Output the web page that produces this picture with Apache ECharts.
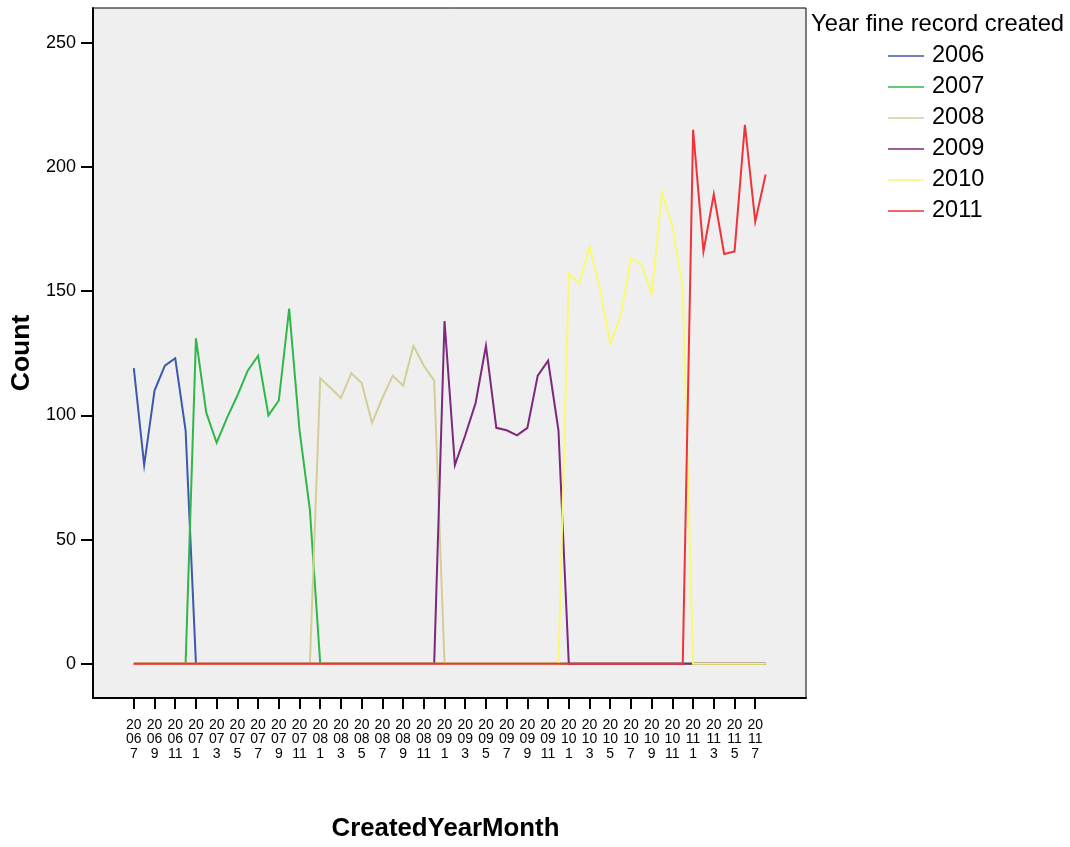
<!DOCTYPE html>
<html><head><meta charset="utf-8">
<script src="https://cdn.jsdelivr.net/npm/echarts@6/dist/echarts.min.js"></script>
<style>html,body{margin:0;padding:0;background:#fff}#chart{width:1070px;height:847px}</style>
</head><body><div id="chart"></div>
<script>
const months = [
  '2006-7','2006-8','2006-9','2006-10','2006-11','2006-12',
  '2007-1','2007-2','2007-3','2007-4','2007-5','2007-6','2007-7','2007-8','2007-9','2007-10','2007-11','2007-12',
  '2008-1','2008-2','2008-3','2008-4','2008-5','2008-6','2008-7','2008-8','2008-9','2008-10','2008-11','2008-12',
  '2009-1','2009-2','2009-3','2009-4','2009-5','2009-6','2009-7','2009-8','2009-9','2009-10','2009-11','2009-12',
  '2010-1','2010-2','2010-3','2010-4','2010-5','2010-6','2010-7','2010-8','2010-9','2010-10','2010-11','2010-12',
  '2011-1','2011-2','2011-3','2011-4','2011-5','2011-6','2011-7','2011-8'
];
const counts = [
  119,80,110,120,123,94,
  131,101,89,99,108,118,124,100,106,143,94,62,
  115,111,107,117,113,97,107,116,112,128,120,114,
  138,80,92,105,128,95,94,92,95,116,122,94,
  157,153,168,151,129,140,163,161,149,190,176,151,
  215,166,189,165,166,217,178,197
];
const years = ['2006','2007','2008','2009','2010','2011'];
const yearColors = ['#3E58AC','#2EB848','#D3CE97','#7C287D','#FBF873','#EF3338'];
const xTickLabels = [
  '2006-7','2006-9','2006-11','2007-1','2007-3','2007-5','2007-7','2007-9','2007-11',
  '2008-1','2008-3','2008-5','2008-7','2008-9','2008-11','2009-1','2009-3','2009-5','2009-7','2009-9','2009-11',
  '2010-1','2010-3','2010-5','2010-7','2010-9','2010-11','2011-1','2011-3','2011-5','2011-7'
];
const yTicks = [0,50,100,150,200,250];

const FONT = '"Liberation Sans", Arial, sans-serif';
const xTickIdx = xTickLabels.map(l => months.indexOf(l));

const series = years.map((yr, k) => ({
  name: yr,
  type: 'line',
  showSymbol: false,
  symbol: 'none',
  animation: false,
  color: yearColors[k],
  lineStyle: { width: 2, color: yearColors[k], join: 'miter', miterLimit: 10 },
  data: months.map((m, i) => [i, m.split('-')[0] === yr ? counts[i] : 0])
}));

const chart = echarts.init(document.getElementById('chart'), null, { renderer: 'canvas' });
chart.setOption({
  animation: false,
  backgroundColor: '#ffffff',
  textStyle: { fontFamily: FONT },
  title: {
    text: 'Year fine record created',
    left: 806, top: 7,
    textStyle: { fontFamily: FONT, fontSize: 23.8, fontWeight: 'normal', color: '#000' }
  },
  legend: {
    orient: 'vertical',
    left: 883, top: 39,
    itemWidth: 36, itemHeight: 1.5, itemGap: 7,
    icon: 'rect',
    data: years,
    textStyle: { fontFamily: FONT, fontSize: 23.5, color: '#000', padding: [0,0,0,3] }
  },
  grid: {
    left: 92.5, right: 264, top: 8, bottom: 146,
    show: true, backgroundColor: '#efefef', borderColor: '#000', borderWidth: 1
  },
  xAxis: {
    type: 'value',
    min: -3.94, max: 64.9,
    name: 'CreatedYearMonth',
    nameLocation: 'middle', nameGap: 118,
    nameTextStyle: { fontFamily: FONT, fontSize: 25.8, fontWeight: 'bold', color: '#000', padding: [0, 8, 0, 0] },
    axisLine: { show: true, onZero: false, lineStyle: { color: '#000', width: 2 } },
    axisTick: { show: true, length: 11, customValues: xTickIdx, lineStyle: { color: '#000', width: 2 } },
    axisLabel: {
      customValues: xTickIdx, margin: 20, color: '#000', fontSize: 14, lineHeight: 14.3, fontFamily: FONT,
      formatter: v => { const m = months[Math.round(v)]; if (!m) return ''; const p = m.split('-'); return p[0].slice(0,2) + '\n' + p[0].slice(2) + '\n' + p[1]; }
    },
    splitLine: { show: false }
  },
  yAxis: {
    type: 'value',
    min: -13.75, max: 264,
    name: 'Count',
    nameLocation: 'middle', nameGap: 58,
    nameTextStyle: { fontFamily: FONT, fontSize: 26.5, fontWeight: 'bold', color: '#000' },
    axisLine: { show: true, onZero: false, lineStyle: { color: '#000', width: 2 } },
    axisTick: { show: true, length: 12, customValues: yTicks, lineStyle: { color: '#000', width: 2 } },
    axisLabel: { customValues: yTicks, margin: 17, color: '#000', fontSize: 18, fontFamily: FONT },
    splitLine: { show: false }
  },
  series: series
});
</script>
</body></html>
